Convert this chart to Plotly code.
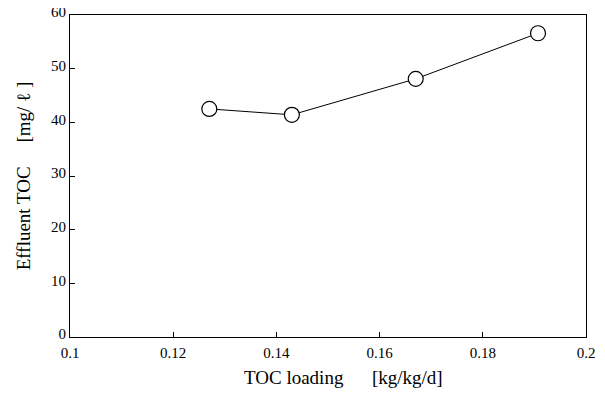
import plotly.graph_objects as go

toc_loading = [0.127, 0.143, 0.167, 0.1907]
effluent_toc = [42.5, 41.4, 48.1, 56.6]
x_ticks = [0.1, 0.12, 0.14, 0.16, 0.18, 0.2]
x_tick_labels = ["0.1", "0.12", "0.14", "0.16", "0.18", "0.2"]
y_ticks = [0, 10, 20, 30, 40, 50, 60]

font_family = "Liberation Serif, Times New Roman, serif"

fig = go.Figure()
fig.add_trace(go.Scatter(
    x=toc_loading, y=effluent_toc, mode="lines+markers",
    line=dict(color="black", width=1),
    marker=dict(symbol="circle", size=15, color="white",
                line=dict(color="black", width=1.2)),
    showlegend=False,
))

# page body has an 8px margin, so the figure is sized/offset to compensate
fig.update_layout(
    width=597, height=386,
    margin=dict(l=62, r=19, t=7, b=57, autoexpand=False),
    paper_bgcolor="white", plot_bgcolor="white",
    font=dict(family=font_family, size=15, color="black"),
    xaxis=dict(
        range=[0.1, 0.2], tickvals=x_ticks, ticktext=x_tick_labels,
        ticks="inside", ticklen=5, tickcolor="black",
        showline=True, linecolor="black", linewidth=1, mirror=True,
        showgrid=False, zeroline=False, ticklabeloverflow="allow",
        automargin=False, ticklabelstandoff=2,
    ),
    yaxis=dict(
        range=[0, 60], tickvals=y_ticks,
        ticks="inside", ticklen=5, tickcolor="black",
        showline=True, linecolor="black", linewidth=1, mirror=True,
        showgrid=False, zeroline=False, ticklabeloverflow="allow",
        automargin=False, ticklabelshift=-3,
        title=dict(text="Effluent TOC &nbsp;&nbsp;&nbsp;&nbsp;[mg/ ℓ ]", standoff=15,
                   font=dict(size=19)),
    ),
    annotations=[dict(
        text="TOC loading &nbsp;&nbsp;&nbsp;&nbsp;&nbsp;[kg/kg/d]",
        xref="paper", yref="paper", x=0.53, y=0,
        xanchor="center", yanchor="middle", yshift=-40,
        showarrow=False, font=dict(size=19),
    )],
)

fig.write_html("out.html")
